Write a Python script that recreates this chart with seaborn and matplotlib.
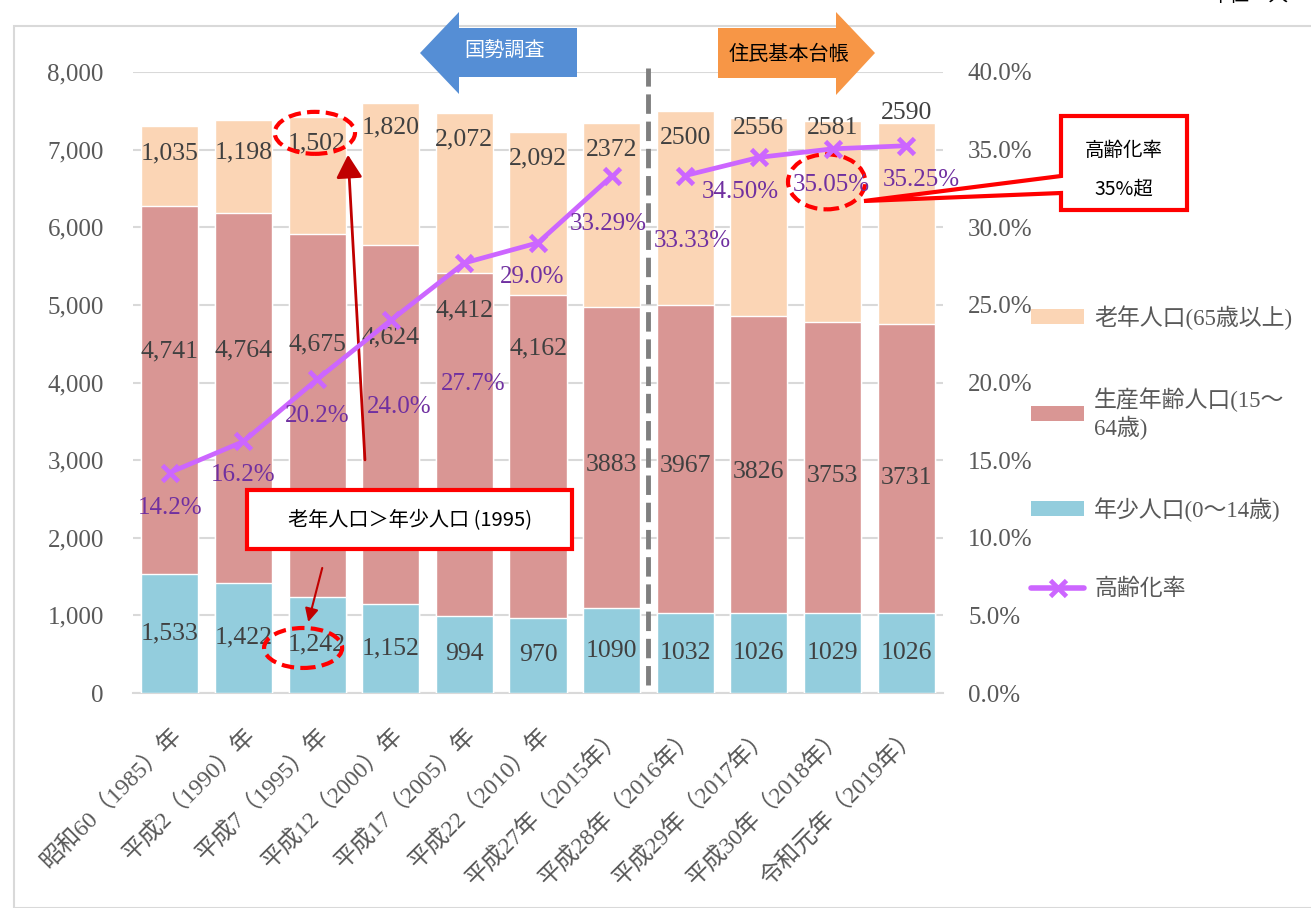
import matplotlib
matplotlib.use("Agg")
import matplotlib.pyplot as plt
import seaborn as sns
import pandas as pd
import numpy as np
from matplotlib.patches import Polygon, Rectangle, Ellipse, Patch, FancyArrowPatch
from matplotlib.lines import Line2D

# ---------------- data ----------------
categories = ["昭和60（1985）年", "平成2（1990）年", "平成7（1995）年", "平成12（2000）年",
              "平成17（2005）年", "平成22（2010）年", "平成27年（2015年）", "平成28年（2016年）",
              "平成29年（2017年）", "平成30年（2018年）", "令和元年（2019年）"]
young = [1533, 1422, 1242, 1152, 994, 970, 1090, 1032, 1026, 1029, 1026]
working = [4741, 4764, 4675, 4624, 4412, 4162, 3883, 3967, 3826, 3753, 3731]
elderly = [1035, 1198, 1502, 1820, 2072, 2092, 2372, 2500, 2556, 2581, 2590]
rate = [14.2, 16.2, 20.2, 24.0, 27.7, 29.0, 33.29, 33.33, 34.50, 35.05, 35.25]
rate_labels = ["14.2%", "16.2%", "20.2%", "24.0%", "27.7%", "29.0%", "33.29%", "33.33%",
               "34.50%", "35.05%", "35.25%"]
source = ["国勢調査"] * 7 + ["住民基本台帳"] * 4
comma_fmt = [True] * 6 + [False] * 5
legend_labels = ["老年人口(65歳以上)", "生産年齢人口(15～\n64歳)", "年少人口(0～14歳)", "高齢化率"]

# label offsets (pixels, style only)
eld_off = [-28, -33, -26, -24, -27, -26, -27, -27, -10, -7, 10]
work_off = [39, 47, 71, 87, 134, 108, -7, -7, -7, -9, -9]
rate_off = [(0, -35), (0, -34), (0, -37), (8, -87), (9, -121), (-6, -34), (-3, -48),
            (7, -65), (-19, -35), (-1, -36), (15, -34)]

C_ELD = "#FBD5B5"
C_WORK = "#D99694"
C_YOUNG = "#93CDDD"
C_LINE = "#CC66FF"
C_RATE_TXT = "#7030A0"
TICK_C = "#595959"
LAB_C = "#404040"

SERIF = ["Liberation Serif", "Noto Sans CJK JP"]
SANS = ["Noto Sans CJK JP", "DejaVu Sans"]

sns.set_theme(style="white")
plt.rcParams["font.family"] = SERIF

W, H = 1311, 908
fig = plt.figure(figsize=(W / 100, H / 100), dpi=100)
ax = fig.add_axes([133 / W, 1 - 693 / H, (943 - 133) / W, (693 - 72) / H])

df = pd.DataFrame({"cat": categories, "young": young, "working": working, "elderly": elderly,
                   "rate": np.array(rate) / 100, "source": source,
                   "pos": np.arange(len(categories))})
df["c2"] = df["young"] + df["working"]
df["c3"] = df["c2"] + df["elderly"]

bw = 0.775
sns.barplot(data=df, x="cat", y="c3", color=C_ELD, width=bw, ax=ax, saturation=1, zorder=2)
sns.barplot(data=df, x="cat", y="c2", color=C_WORK, width=bw, ax=ax, saturation=1, zorder=3)
sns.barplot(data=df, x="cat", y="young", color=C_YOUNG, width=bw, ax=ax, saturation=1, zorder=4)

ax.set_xlim(-0.5, len(categories) - 0.5)
ax.set_ylim(0, 8000)
ax.set_yticks(range(0, 8001, 1000))
ax.set_yticklabels([f"{v:,}" for v in range(0, 8001, 1000)])
ax.yaxis.grid(True, color="#D9D9D9", linewidth=1.5, zorder=0)
ax.set_axisbelow(True)
for s in ["top", "right", "left"]:
    ax.spines[s].set_visible(False)
ax.spines["bottom"].set_color("#D9D9D9")
ax.spines["bottom"].set_linewidth(1.5)
ax.set_xlabel("")
ax.set_ylabel("")
ax.tick_params(axis="y", length=0, pad=21, labelsize=18, labelcolor=TICK_C)
ax.tick_params(axis="x", length=0, pad=22, labelsize=17, labelcolor=TICK_C)
ax.set_xticks(range(len(categories)))
ax.set_xticklabels(categories, rotation=45, ha="right", rotation_mode="anchor")

def fmt(v, c):
    return f"{v:,}" if c else f"{v}"

LBL_FS = 18.5
for i in range(len(categories)):
    ax.annotate(fmt(young[i], comma_fmt[i]), (i, young[i] / 2), xytext=(0, 0),
                textcoords="offset points", ha="center", va="center", fontsize=LBL_FS,
                color=LAB_C, zorder=10)
    ax.annotate(fmt(working[i], comma_fmt[i]), (i, young[i] + working[i] / 2),
                xytext=(0, work_off[i] * 0.72), textcoords="offset points",
                ha="center", va="center", fontsize=LBL_FS, color=LAB_C, zorder=10)
    ax.annotate(fmt(elderly[i], comma_fmt[i]), (i, young[i] + working[i] + elderly[i]),
                xytext=(0, eld_off[i] * 0.72), textcoords="offset points",
                ha="center", va="center", fontsize=LBL_FS, color=LAB_C, zorder=10)

# secondary axis with ageing rate (line broken between data sources)
ax2 = ax.twinx()
sns.lineplot(data=df, x="pos", y="rate", units="source", estimator=None, ax=ax2,
             color=C_LINE, linewidth=3.4, marker="x", markersize=12, markeredgewidth=3.4,
             markeredgecolor=C_LINE, zorder=6, sort=False)
ax2.set_ylim(0, 0.40)
ax2.set_yticks(np.arange(0, 0.401, 0.05))
ax2.set_yticklabels([f"{v * 100:.1f}%" for v in np.arange(0, 0.401, 0.05)])
ax2.tick_params(axis="y", length=0, pad=18, labelsize=18, labelcolor=TICK_C)
for s in ax2.spines.values():
    s.set_visible(False)
ax2.set_ylabel("")
ax2.set_xlabel("")
ax2.grid(False)
ax2.set_xlim(-0.5, len(categories) - 0.5)

for i in range(len(categories)):
    dx, dy = rate_off[i]
    ax2.annotate(rate_labels[i], (i, rate[i] / 100), xytext=(dx * 0.72, dy * 0.72),
                 textcoords="offset points", ha="center", va="center", fontsize=18,
                 color=C_RATE_TXT, zorder=10)

# dashed separator between census and registry data
ax2.axvline(6.5, ymin=0.013, ymax=1.006, color="#7F7F7F", linewidth=3.5,
            linestyle=(0, (4, 1.6)), clip_on=False, zorder=7)

# legend
handles = [Patch(facecolor=C_ELD, edgecolor="none"),
           Patch(facecolor=C_WORK, edgecolor="none"),
           Patch(facecolor=C_YOUNG, edgecolor="none"),
           Line2D([0], [0], color=C_LINE, linewidth=4, marker="x", markersize=11,
                  markeredgewidth=3.4)]
leg = fig.legend(handles, legend_labels, loc="upper left",
                 bbox_to_anchor=(1022 / W, 1 - 296 / H), frameon=False, fontsize=16.5,
                 labelcolor=TICK_C, handlelength=2.3, handleheight=0.6,
                 handletextpad=0.45, labelspacing=2.5, borderaxespad=0)

# ---------------- decorations in pixel space ----------------
def P(x, y):
    return (x / W, 1 - y / H)

fig.patches.append(Rectangle(P(14, 908), (1400 - 14) / W, (908 - 26) / H,
                             transform=fig.transFigure, fill=False,
                             edgecolor="#D9D9D9", linewidth=1.5))
fig.text(*P(1250, 6), "単位：人", family=SANS, fontsize=14, color="black",
         ha="center", va="bottom")

# blue left arrow
blue_pts = [P(420, 53), P(459, 12), P(459, 28), P(577, 28), P(577, 77), P(459, 77), P(459, 94)]
fig.patches.append(Polygon(blue_pts, closed=True, transform=fig.transFigure,
                           facecolor="#558ED5", edgecolor="none", zorder=20))
fig.text(*P(505, 51), "国勢調査", family=SANS, fontsize=14.5, color="white",
         ha="center", va="center", zorder=21)

# orange right arrow
org_pts = [P(718, 28), P(836, 28), P(836, 12), P(875, 53), P(836, 95), P(836, 78), P(718, 78)]
fig.patches.append(Polygon(org_pts, closed=True, transform=fig.transFigure,
                           facecolor="#F79646", edgecolor="none", zorder=20))
fig.text(*P(789, 54), "住民基本台帳", family=SANS, fontsize=14.5, color="black",
         ha="center", va="center", zorder=21)

# dashed red ellipses (data space)
for (cx, cy, ew, eh) in [(1.97, 7216, 1.09, 541), (1.81, 580, 1.06, 515), (8.92, 6585, 1.05, 709)]:
    ax.add_patch(Ellipse((cx, cy), ew, eh, fill=False, edgecolor="#FF0000",
                         linewidth=3, linestyle=(0, (3, 1.5)), zorder=12, clip_on=False))

# dark red arrows
ax.add_patch(FancyArrowPatch((2.65, 3003), (2.42, 6933), arrowstyle="-|>,head_length=14,head_width=8",
                             color="#C00000", linewidth=2, zorder=13, clip_on=False,
                             shrinkA=0, shrinkB=0))
ax.add_patch(FancyArrowPatch((2.07, 1611), (1.88, 915), arrowstyle="-|>,head_length=8,head_width=4",
                             color="#C00000", linewidth=1.5, zorder=13, clip_on=False,
                             shrinkA=0, shrinkB=0))

# annotation box 1
fig.patches.append(Rectangle(P(247, 549), (572 - 247) / W, (549 - 490) / H,
                             transform=fig.transFigure, facecolor="white",
                             edgecolor="#FF0000", linewidth=3, zorder=20))
fig.text(*P(410, 521), "老年人口＞年少人口 (1995)", family=SANS, fontsize=14.5,
         color="black", ha="center", va="center", zorder=21)

# callout box 2
call_pts = [P(1061, 116), P(1187, 116), P(1187, 210), P(1061, 210), P(1061, 193),
            P(864, 201), P(1061, 176)]
fig.patches.append(Polygon(call_pts, closed=True, transform=fig.transFigure,
                           facecolor="white", edgecolor="#FF0000", linewidth=3, zorder=20,
                           joinstyle="miter"))
fig.text(*P(1124, 151), "高齢化率", family=SANS, fontsize=14, color="black",
         ha="center", va="center", zorder=21)
fig.text(*P(1124, 189), "35%超", family=SANS, fontsize=14, color="black",
         ha="center", va="center", zorder=21)

fig.savefig("out.png", dpi=100)
